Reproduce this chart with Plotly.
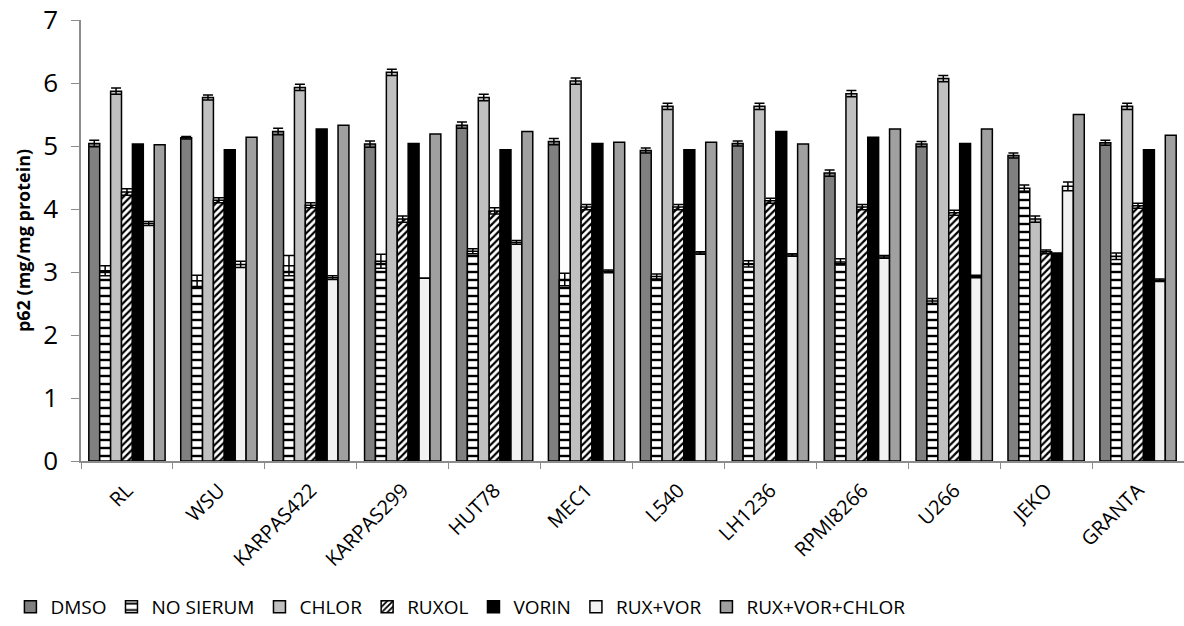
import plotly.graph_objects as go

cell_lines = ["RL", "WSU", "KARPAS422", "KARPAS299", "HUT78", "MEC1",
              "L540", "LH1236", "RPMI8266", "U266", "JEKO", "GRANTA"]

dmso = [5.04, 5.13, 5.23, 5.03, 5.33, 5.07, 4.93, 5.04, 4.57, 5.03, 4.85, 5.05]
dmso_err = [0.05, 0.02, 0.05, 0.05, 0.05, 0.05, 0.04, 0.04, 0.05, 0.04, 0.04, 0.04]

no_sierum = [3.02, 2.86, 3.10, 3.17, 3.33, 2.88, 2.93, 3.13, 3.16, 2.54, 4.33, 3.25]
no_sierum_err = [0.08, 0.09, 0.16, 0.11, 0.04, 0.10, 0.04, 0.05, 0.05, 0.04, 0.05, 0.05]

chlor = [5.87, 5.77, 5.93, 6.17, 5.77, 6.03, 5.63, 5.63, 5.83, 6.07, 3.84, 5.63]
chlor_err = [0.05, 0.04, 0.05, 0.05, 0.05, 0.05, 0.05, 0.05, 0.05, 0.05, 0.05, 0.05]

ruxol = [4.27, 4.14, 4.06, 3.84, 3.97, 4.03, 4.03, 4.13, 4.03, 3.94, 3.32, 4.05]
ruxol_err = [0.05, 0.04, 0.04, 0.05, 0.05, 0.04, 0.04, 0.04, 0.04, 0.04, 0.03, 0.04]

vorin = [5.03, 4.94, 5.27, 5.04, 4.94, 5.04, 4.94, 5.23, 5.14, 5.04, 3.30, 4.94]

rux_vor = [3.77, 3.12, 2.91, 2.90, 3.47, 3.01, 3.30, 3.27, 3.24, 2.93, 4.36, 2.87]
rux_vor_err = [0.03, 0.05, 0.03, 0.0, 0.03, 0.02, 0.02, 0.02, 0.02, 0.02, 0.07, 0.02]

rux_vor_chlor = [5.02, 5.14, 5.33, 5.19, 5.23, 5.06, 5.06, 5.03, 5.27, 5.27, 5.50, 5.17]

series = [
    ("DMSO", dmso, dmso_err, "#808080", None),
    ("NO SIERUM", no_sierum, no_sierum_err, "#ffffff", "-"),
    ("CHLOR", chlor, chlor_err, "#c0c0c0", None),
    ("RUXOL", ruxol, ruxol_err, "#ffffff", "/"),
    ("VORIN", vorin, None, "#000000", None),
    ("RUX+VOR", rux_vor, rux_vor_err, "#f2f2f2", None),
    ("RUX+VOR+CHLOR", rux_vor_chlor, None, "#a0a0a0", None),
]

fig = go.Figure()
for name, vals, err, color, shape in series:
    marker = dict(color=color, line=dict(color="#000000", width=1.5))
    if shape == "-":
        marker["pattern"] = dict(shape="-", fgcolor="#000000", bgcolor="#ffffff",
                                 size=8, solidity=0.3, fillmode="replace")
    elif shape:
        marker["pattern"] = dict(shape=shape, fgcolor="#000000", bgcolor="#ffffff",
                                 size=5, solidity=0.45, fillmode="replace")
    eb = dict(visible=False)
    if err is not None:
        eb = dict(type="data", array=err, visible=True, color="#000000",
                  thickness=1.5, width=5)
    fig.add_trace(go.Bar(name=name, x=cell_lines, y=vals, marker=marker,
                         error_y=eb))

fig.update_layout(
    barmode="group",
    bargap=0.17,
    bargroupgap=0.0,
    width=1184,
    height=626,
    margin=dict(l=81, r=0, t=20, b=164),
    plot_bgcolor="#ffffff",
    paper_bgcolor="#ffffff",
    font=dict(family="Open Sans", color="#000000"),
    showlegend=True,
    legend=dict(orientation="h", x=-0.064, xanchor="left", y=-0.33,
                yanchor="middle", font=dict(size=19), traceorder="normal",
                itemwidth=30),
)

fig.update_xaxes(
    showline=True, linecolor="#8c8c8c", linewidth=1.5,
    ticks="outside", tickson="boundaries", ticklen=6, tickcolor="#8c8c8c",
    tickangle=-45, tickfont=dict(size=20), ticklabelstandoff=8,
    range=[-0.5, 11.5],
)
fig.update_yaxes(
    range=[0, 7], dtick=1, showgrid=False, zeroline=False,
    showline=True, linecolor="#8c8c8c", linewidth=1.5,
    ticks="outside", ticklen=8, tickcolor="#8c8c8c",
    tickfont=dict(size=26), ticklabelstandoff=8,
    title=dict(text="<b>p62 (mg/mg protein)</b>", font=dict(size=18), standoff=8),
)

fig.write_html("out.html")
